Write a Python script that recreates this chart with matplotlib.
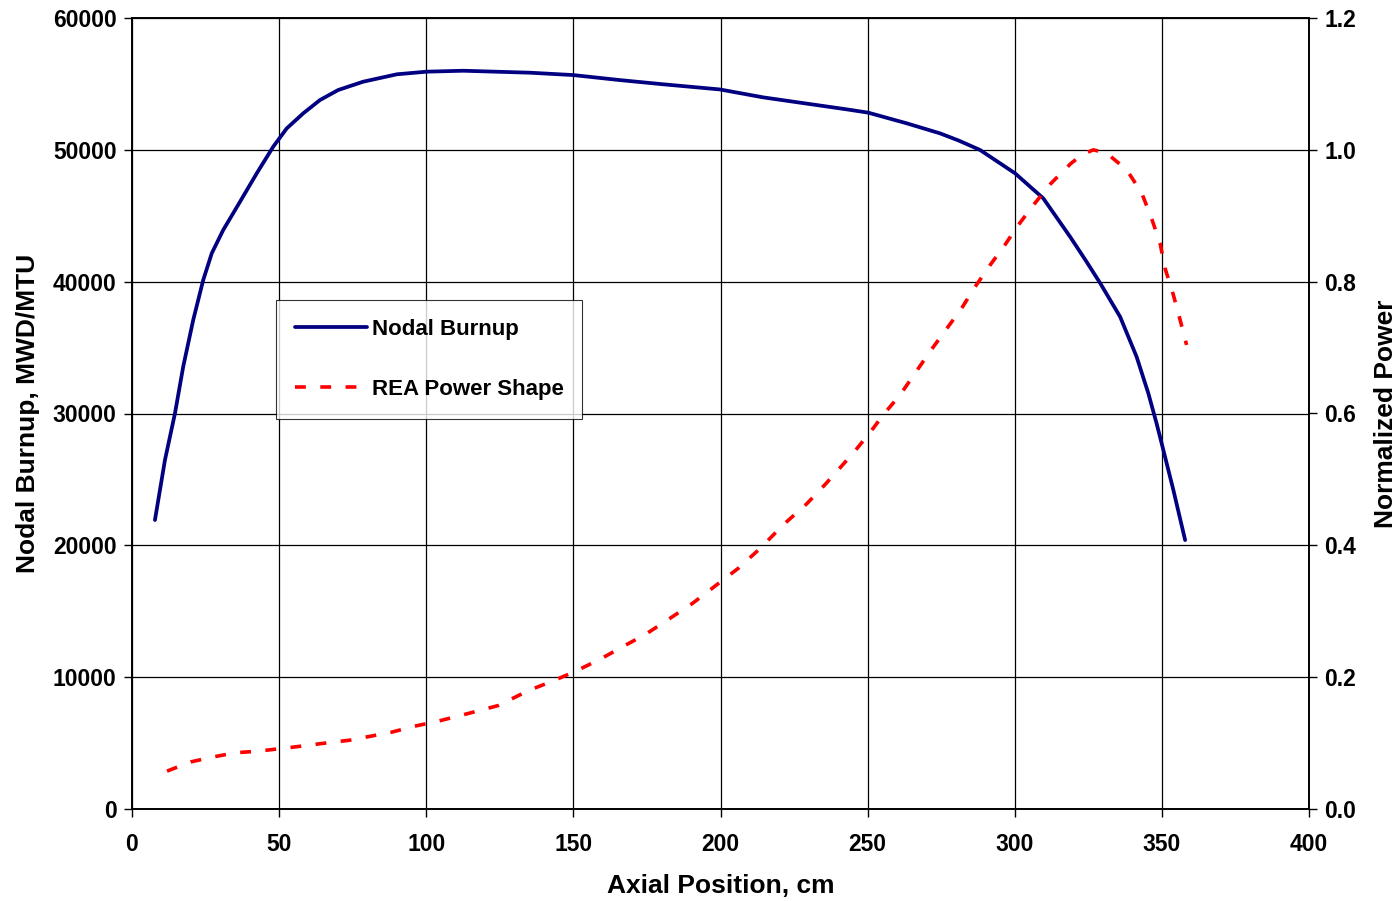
import matplotlib
matplotlib.use("Agg")
import matplotlib.pyplot as plt

plt.rcParams['font.family'] = ['Liberation Sans', 'DejaVu Sans']
plt.rcParams['font.weight'] = 'bold'

# Nodal burnup (MWD/MTU) vs axial position (cm)
burnup_x = [7.8, 11.2, 14.6, 17.4, 20.8, 24.2, 27.1, 31.0, 36.7, 42.4, 48.0, 52.6, 58.2,
            63.9, 70.1, 78.6, 90.0, 100.2, 112.6, 135.3, 150.0, 165.8, 180.6, 199.8,
            214.5, 230.4, 242.9, 250.2, 263.3, 274.6, 281.0, 288.2, 300.1, 309.7, 318.8,
            324.0, 329.0, 335.8, 341.4, 345.4, 348.2, 350.5, 353.9, 357.9]
burnup_y = [21920, 26470, 30010, 33550, 37090, 40120, 42150, 43920, 46060, 48220, 50240,
            51630, 52770, 53780, 54540, 55170, 55730, 55930, 56000, 55850, 55670, 55290,
            54970, 54580, 53980, 53470, 53070, 52820, 52010, 51250, 50700, 49990, 48220,
            46320, 43410, 41650, 39900, 37340, 34310, 31530, 29250, 27230, 24200, 20400]

# REA normalized power shape
power_x = [11.9, 20.1, 27.9, 35.0, 42.8, 54.5, 66.2, 74.0, 88.2, 96.0, 103.8, 112.8, 124.5,
           134.9, 142.7, 150.5, 159.0, 166.4, 174.7, 182.3, 190.5, 197.8, 206.0, 213.4,
           221.3, 229.3, 235.5, 239.5, 245.1, 250.8, 255.3, 261.0, 266.1, 271.2, 276.6,
           282.0, 286.5, 291.6, 296.7, 300.9, 306.3, 312.3, 319.0, 323.0, 326.7, 331.2,
           338.0, 343.1, 346.5, 349.4, 351.1, 353.9, 356.2, 358.4]
power_y = [0.0575, 0.0716, 0.0792, 0.0853, 0.0877, 0.0937, 0.1003, 0.1044, 0.1165, 0.1256,
           0.133, 0.1432, 0.157, 0.18, 0.1936, 0.2085, 0.227, 0.2453, 0.2655, 0.2877, 0.312,
           0.337, 0.365, 0.395, 0.431, 0.463, 0.492, 0.512, 0.540, 0.571, 0.598, 0.628,
           0.661, 0.694, 0.727, 0.760, 0.792, 0.825, 0.856, 0.884, 0.916, 0.949, 0.979,
           0.993, 1.000, 0.995, 0.970, 0.935, 0.896, 0.858, 0.820, 0.780, 0.742, 0.704]

x_ticks = [0, 50, 100, 150, 200, 250, 300, 350, 400]
y_ticks = [0, 10000, 20000, 30000, 40000, 50000, 60000]
y2_ticks = [0.0, 0.2, 0.4, 0.6, 0.8, 1.0, 1.2]

fig = plt.figure(figsize=(13.98, 9.01), dpi=100)
ax = fig.add_axes([132/1398, 92/901, (1309-132)/1398, (809-18)/901])
ax2 = ax.twinx()

l1, = ax.plot(burnup_x, burnup_y, color='#000080', lw=2.7, label='Nodal Burnup',
              solid_capstyle='round', solid_joinstyle='round', zorder=3)
l2, = ax2.plot(power_x, power_y, color='#ff0000', lw=2.6, label='REA Power Shape',
               dashes=(3.0, 4.0), dash_capstyle='butt', zorder=3)

ax.set_xlim(0, 400)
ax.set_ylim(0, 60000)
ax2.set_ylim(0, 1.2)
ax.set_xticks(x_ticks)
ax.set_yticks(y_ticks)
ax2.set_yticks(y2_ticks)
ax2.set_yticklabels([f"{v:.1f}" for v in y2_ticks])

ax.grid(True, color='black', lw=0.9)
ax.set_axisbelow(True)

for a in (ax, ax2):
    for s in a.spines.values():
        s.set_linewidth(1.2)
        s.set_color('black')
    a.tick_params(axis='both', direction='out', length=6, width=1, labelsize=16.5, pad=5)
ax.tick_params(axis='x', pad=11)

ax.set_xlabel('Axial Position, cm', fontsize=19, fontweight='bold', labelpad=13)
ax.set_ylabel('Nodal Burnup, MWD/MTU', fontsize=19, fontweight='bold', labelpad=9)
ax2.set_ylabel('Normalized Power', fontsize=19, fontweight='bold', labelpad=13)
for lab in ax.get_xticklabels() + ax.get_yticklabels() + ax2.get_yticklabels():
    lab.set_fontweight('bold')

leg = fig.legend(handles=[l1, l2], loc='upper left',
                 bbox_to_anchor=(276/1398, 1 - 300/901), fontsize=16,
                 frameon=True, fancybox=False, edgecolor='black',
                 handlelength=3.25, handletextpad=0.2, labelspacing=1.75,
                 borderpad=0.85, borderaxespad=0)
leg.get_frame().set_linewidth(0.8)
for t in leg.get_texts():
    t.set_fontweight('bold')

fig.savefig('out.png', dpi=100)
